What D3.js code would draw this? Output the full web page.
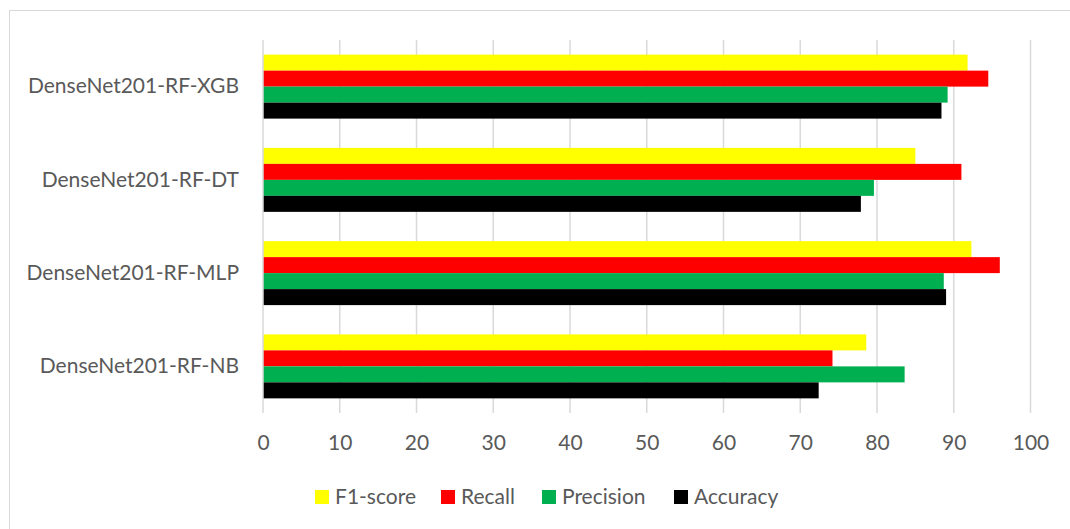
<!DOCTYPE html>
<html>
<head>
<meta charset="utf-8">
<title>DenseNet201 models</title>
<style>
  body { margin: 0; background: #fff; }
  svg text { font-family: Lato, "Liberation Sans", sans-serif; fill: #595959; }
</style>
</head>
<body>
<div id="chart"></div>
<script src="https://cdn.jsdelivr.net/npm/d3@7"></script>
<script>
// models, top to bottom
const models = ["DenseNet201-RF-XGB", "DenseNet201-RF-DT", "DenseNet201-RF-MLP", "DenseNet201-RF-NB"];
const metrics = ["F1-score", "Recall", "Precision", "Accuracy"];
const colors = ["#ffff00", "#ff0000", "#00b050", "#000000"];

const f1score = [91.8, 85.0, 92.3, 78.6];
const recall = [94.5, 91.0, 96.0, 74.2];
const precision = [89.2, 79.6, 88.7, 83.6];
const accuracy = [88.4, 77.9, 89.0, 72.4];

const xTicks = [0, 10, 20, 30, 40, 50, 60, 70, 80, 90, 100];

const series = [f1score, recall, precision, accuracy];

const W = 1070, H = 529;
const plot = { left: 263, right: 1030.5, top: 40, bottom: 413 };

const svg = d3.select("#chart").append("svg")
  .attr("width", W).attr("height", H);

// outer chart border
svg.append("rect")
  .attr("x", 9.5).attr("y", 10.5)
  .attr("width", 1080).attr("height", 540)
  .attr("fill", "none").attr("stroke", "#d9d9d9");

const x = d3.scaleLinear().domain([0, 100]).range([plot.left, plot.right]);
const y = d3.scaleBand().domain(models).range([plot.top, plot.bottom]).paddingInner(29.3 / 93.3).paddingOuter(29.3 / 93.3 / 2);
const yInner = d3.scaleBand().domain(metrics).range([0, y.bandwidth()]);

// gridlines
svg.append("g")
  .selectAll("line")
  .data(xTicks.slice(1))
  .join("line")
  .attr("x1", d => x(d)).attr("x2", d => x(d))
  .attr("y1", plot.top).attr("y2", plot.bottom)
  .attr("stroke", "#d9d9d9").attr("stroke-width", 1.5);

// bars
const groups = svg.append("g")
  .selectAll("g")
  .data(models)
  .join("g")
  .attr("transform", d => `translate(0,${y(d)})`);

groups.selectAll("rect")
  .data((m, i) => metrics.map((k, j) => ({ key: k, value: series[j][i], color: colors[j] })))
  .join("rect")
  .attr("x", x(0))
  .attr("y", d => yInner(d.key))
  .attr("width", d => x(d.value) - x(0))
  .attr("height", yInner.bandwidth())
  .attr("fill", d => d.color);

// vertical axis line
svg.append("line")
  .attr("x1", x(0)).attr("x2", x(0))
  .attr("y1", plot.top).attr("y2", plot.bottom)
  .attr("stroke", "#d9d9d9").attr("stroke-width", 1.5);

// x axis labels
const xAxis = d3.axisBottom(x).tickValues(xTicks).tickSize(0).tickPadding(22);
const gx = svg.append("g")
  .attr("transform", `translate(0,${plot.bottom})`)
  .call(xAxis);
gx.select(".domain").remove();
gx.selectAll("text")
  .style("font-family", "Lato, sans-serif")
  .style("font-size", "21px")
  .attr("fill", "#595959");

// y axis labels
const yAxis = d3.axisLeft(y).tickSize(0).tickPadding(24);
const gy = svg.append("g")
  .attr("transform", `translate(${plot.left},0)`)
  .call(yAxis);
gy.select(".domain").remove();
gy.selectAll("text")
  .style("font-family", "Lato, sans-serif")
  .style("font-size", "21px")
  .attr("fill", "#595959");

// legend
const legendX = [315, 441, 542, 674];
const legend = svg.append("g")
  .selectAll("g")
  .data(metrics)
  .join("g")
  .attr("transform", (d, i) => `translate(${legendX[i]},490)`);

legend.append("rect")
  .attr("width", 14).attr("height", 14)
  .attr("fill", (d, i) => colors[i]);

legend.append("text")
  .attr("x", 20).attr("y", 7)
  .attr("dy", "0.35em")
  .style("font-size", "21px")
  .text(d => d);
</script>
</body>
</html>
